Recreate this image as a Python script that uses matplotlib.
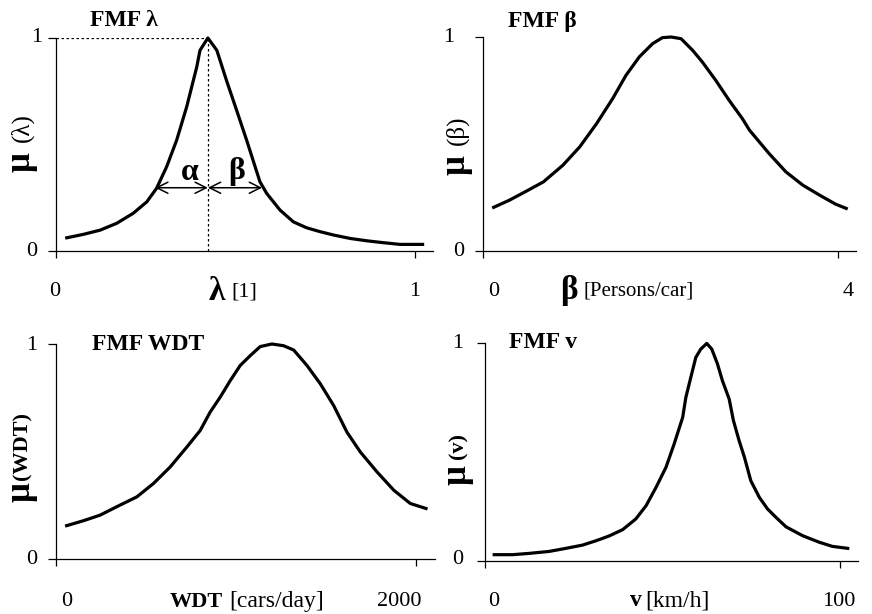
import numpy as np
import matplotlib.pyplot as plt

plt.rcParams['font.family'] = ['Liberation Serif', 'DejaVu Serif']

# membership curves
lam_x = [0.030, 0.076, 0.123, 0.169, 0.215, 0.253, 0.280, 0.308, 0.336, 0.364,
         0.392, 0.401, 0.423, 0.448, 0.475, 0.503, 0.531, 0.568, 0.587, 0.624,
         0.661, 0.698, 0.735, 0.773, 0.819, 0.865, 0.912, 0.958, 1.021]
lam_y = [0.062, 0.078, 0.098, 0.130, 0.177, 0.231, 0.294, 0.395, 0.520, 0.677,
         0.864, 0.942, 1.000, 0.942, 0.800, 0.661, 0.520, 0.325, 0.270, 0.192,
         0.137, 0.109, 0.091, 0.075, 0.059, 0.048, 0.039, 0.031, 0.031]
lam_peak = 0.423
alpha_left = 0.276
beta_right = 0.574
arrow_mu = 0.297

beta_x = [0.12, 0.30, 0.49, 0.68, 0.90, 1.09, 1.28, 1.46, 1.61, 1.76, 1.91, 2.02,
          2.12, 2.23, 2.36, 2.47, 2.62, 2.77, 2.92, 3.00, 3.22, 3.41, 3.60, 3.79,
          3.97, 4.09]
beta_y = [0.204, 0.238, 0.280, 0.323, 0.401, 0.487, 0.596, 0.712, 0.821, 0.907,
          0.969, 0.997, 1.000, 0.992, 0.938, 0.883, 0.798, 0.705, 0.619, 0.565,
          0.456, 0.370, 0.308, 0.261, 0.219, 0.199]

wdt_x = [59, 152, 245, 337, 449, 541, 634, 727, 801, 856, 912, 968, 1023, 1079,
         1134, 1199, 1264, 1320, 1394, 1468, 1542, 1616, 1690, 1783, 1876, 1968,
         2055]
wdt_y = [0.155, 0.178, 0.204, 0.243, 0.289, 0.351, 0.428, 0.521, 0.598, 0.683,
         0.753, 0.830, 0.900, 0.946, 0.988, 1.000, 0.992, 0.972, 0.900, 0.815,
         0.714, 0.590, 0.498, 0.405, 0.320, 0.258, 0.235]

v_x = [2.6, 7.8, 12.5, 18.1, 22.8, 27.5, 31.3, 35.0, 38.8, 42.5, 45.4, 48.2,
       51.0, 53.3, 55.7, 56.6, 58.0, 59.4, 60.8, 62.5, 63.9, 65.5, 66.9, 68.8,
       70.0, 71.6, 73.1, 74.9, 77.3, 79.6, 82.0, 84.8, 89.5, 94.2, 97.9, 102.2]
v_y = [0.029, 0.029, 0.035, 0.044, 0.058, 0.073, 0.093, 0.115, 0.144, 0.193,
       0.254, 0.338, 0.430, 0.537, 0.659, 0.751, 0.843, 0.934, 0.972, 0.998,
       0.972, 0.904, 0.827, 0.743, 0.644, 0.552, 0.476, 0.368, 0.292, 0.239,
       0.200, 0.157, 0.116, 0.086, 0.067, 0.058]

W, H = 872, 614
fig = plt.figure(figsize=(W / 100, H / 100), dpi=100)


def px_text(x, y, s, **kw):
    # place text by pixel position in the 872x614 picture
    kw.setdefault('ha', 'center')
    kw.setdefault('va', 'center')
    fig.text(x / W, 1 - y / H, s, **kw)


def panel(left, right, top, bottom, xmax_tick, xlim_right):
    ax = fig.add_axes([left / W, 1 - bottom / H, (right - left) / W, (bottom - top) / H])
    ax.set_xlim(0, xlim_right)
    ax.set_ylim(0, 1)
    for s in ['top', 'right']:
        ax.spines[s].set_visible(False)
    ax.spines['left'].set_linewidth(0.9)
    ax.spines['bottom'].set_linewidth(0.9)
    ax.set_xticks([0, xmax_tick])
    ax.set_yticks([0, 1])
    ax.tick_params(axis='y', direction='out', length=6, width=0.9, labelleft=False)
    ax.tick_params(axis='x', direction='out', length=5, width=0.9, labelbottom=False)
    ax.patch.set_visible(False)
    return ax


lw = 2.3
tick_fs = 16
lab_fs = 15
title_fs = 17

# ---- FMF lambda
ax1 = panel(56, 433, 38, 251, 1, 1.05)
ax1.plot(lam_x, lam_y, color='black', lw=lw, clip_on=False)
ax1.plot([0, lam_peak], [1, 1], color='black', lw=0.9, ls=(0, (2, 2)))
ax1.plot([lam_peak, lam_peak], [0, 1], color='black', lw=0.9, ls=(0, (2, 2)))
ax1.annotate('', xy=(alpha_left, arrow_mu), xytext=(lam_peak, arrow_mu),
             arrowprops=dict(arrowstyle='<->', color='black', lw=1.1,
                             shrinkA=0, shrinkB=0, mutation_scale=20))
ax1.annotate('', xy=(beta_right, arrow_mu), xytext=(lam_peak, arrow_mu),
             arrowprops=dict(arrowstyle='<->', color='black', lw=1.1,
                             shrinkA=0, shrinkB=0, mutation_scale=20))
px_text(190, 172, 'α', fontsize=23, fontweight='bold')
px_text(237, 172, 'β', fontsize=23, fontweight='bold')
px_text(90, 20, 'FMF λ', fontsize=title_fs, fontweight='bold', ha='left')
px_text(21, 162, 'μ', fontsize=25, fontweight='bold', rotation=90)
px_text(22, 128, '(λ)', fontsize=18, rotation=90)
px_text(37, 38, '1', fontsize=tick_fs)
px_text(32, 251, '0', fontsize=tick_fs)
px_text(55, 291, '0', fontsize=tick_fs)
px_text(415, 291, '1', fontsize=tick_fs)
px_text(217, 292, 'λ', fontsize=24, fontweight='bold')
px_text(231, 292, '[1]', fontsize=lab_fs + 1, ha='left')

# ---- FMF beta
ax2 = panel(483, 856, 37, 251, 4, 4.2)
ax2.plot(beta_x, beta_y, color='black', lw=lw, clip_on=False)
px_text(508, 21, 'FMF β', fontsize=title_fs, fontweight='bold', ha='left')
px_text(456, 165, 'μ', fontsize=25, fontweight='bold', rotation=90)
px_text(457, 130, '(β)', fontsize=18, rotation=90)
px_text(449, 38, '1', fontsize=tick_fs)
px_text(459, 251, '0', fontsize=tick_fs)
px_text(494, 291, '0', fontsize=tick_fs)
px_text(848, 291, '4', fontsize=tick_fs)
px_text(569, 291, 'β', fontsize=24, fontweight='bold')
px_text(583, 291, '[Persons/car]', fontsize=lab_fs, ha='left')

# ---- FMF WDT
ax3 = panel(56, 435, 344, 559, 2000, 2105)
ax3.plot(wdt_x, wdt_y, color='black', lw=lw, clip_on=False)
px_text(92, 344, 'FMF WDT', fontsize=title_fs, fontweight='bold', ha='left')
px_text(21, 492, 'μ', fontsize=25, fontweight='bold', rotation=90)
px_text(22, 446, '(WDT)', fontsize=16, fontweight='bold', rotation=90)
px_text(32, 345, '1', fontsize=tick_fs)
px_text(32, 559, '0', fontsize=tick_fs)
px_text(67, 602, '0', fontsize=tick_fs)
px_text(399, 602, '2000', fontsize=tick_fs)
px_text(170, 602, 'WDT', fontsize=16, fontweight='bold', ha='left')
px_text(229, 602, '[cars/day]', fontsize=17, ha='left')

# ---- FMF v
ax4 = panel(485, 858, 343, 561, 100, 105.1)
ax4.plot(v_x, v_y, color='black', lw=lw, clip_on=False)
px_text(509, 343, 'FMF v', fontsize=title_fs, fontweight='bold', ha='left')
px_text(457, 475, 'μ', fontsize=25, fontweight='bold', rotation=90)
px_text(458, 446, '(v)', fontsize=16, fontweight='bold', rotation=90)
px_text(458, 344, '1', fontsize=tick_fs)
px_text(458, 560, '0', fontsize=tick_fs)
px_text(494, 601, '0', fontsize=tick_fs)
px_text(839, 601, '100', fontsize=tick_fs)
px_text(636, 601, 'v', fontsize=17, fontweight='bold')
px_text(645, 601, '[km/h]', fontsize=17, ha='left')

fig.savefig('out.png', dpi=100, facecolor='white')
